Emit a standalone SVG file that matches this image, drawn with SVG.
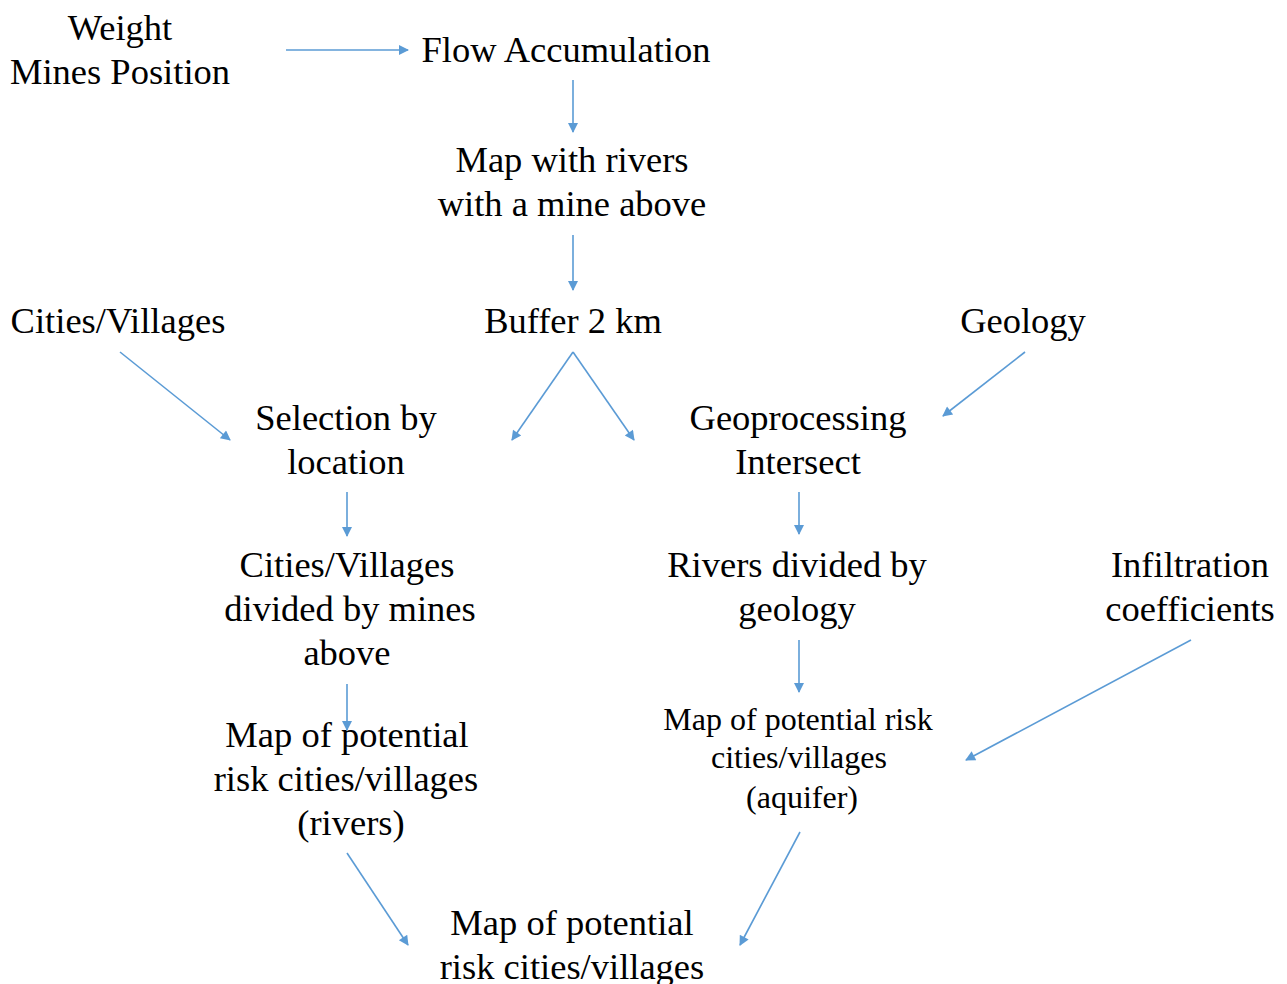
<svg xmlns="http://www.w3.org/2000/svg" width="1287" height="984" viewBox="0 0 1287 984">
<defs>
<marker id="ah" viewBox="0 0 10 10" refX="9" refY="5" markerWidth="12" markerHeight="10" orient="auto" markerUnits="userSpaceOnUse">
<path d="M0,0 L10,5 L0,10 z" fill="#5B9BD5"/>
</marker>
<style>
text{font-family:"Liberation Serif","Times New Roman",serif;font-size:36.5px;fill:#000;text-anchor:middle}
.sm{font-size:32px}
.c line{stroke:#5B9BD5;stroke-width:1.6;marker-end:url(#ah)}
</style>
</defs>
<rect width="1287" height="984" fill="#fff"/>
<g id="n-weight"><text x="120" y="40">Weight</text><text x="120" y="84">Mines Position</text></g>
<g id="n-flow"><text x="566" y="62">Flow Accumulation</text></g>
<g id="n-maprivers"><text x="572" y="172">Map with rivers</text><text x="572" y="216">with a mine above</text></g>
<g id="n-cities"><text x="118" y="333">Cities/Villages</text></g>
<g id="n-buffer"><text x="573" y="333">Buffer 2 km</text></g>
<g id="n-geology"><text x="1023" y="333">Geology</text></g>
<g id="n-selection"><text x="346" y="430">Selection by</text><text x="346" y="474">location</text></g>
<g id="n-geoproc"><text x="798" y="430">Geoprocessing</text><text x="798" y="474">Intersect</text></g>
<g id="n-citiesdiv"><text x="347" y="577">Cities/Villages</text><text x="350" y="621">divided by mines</text><text x="347" y="665">above</text></g>
<g id="n-riversdiv"><text x="797" y="577">Rivers divided by</text><text x="797" y="621">geology</text></g>
<g id="n-infil"><text x="1190" y="577">Infiltration</text><text x="1190" y="621">coefficients</text></g>
<g id="n-riskrivers"><text x="347" y="747">Map of potential</text><text x="346" y="791">risk cities/villages</text><text x="351" y="835">(rivers)</text></g>
<g id="n-riskaquifer"><text class="sm" x="798" y="730">Map of potential risk</text><text class="sm" x="799" y="768">cities/villages</text><text class="sm" x="802" y="808">(aquifer)</text></g>
<g id="n-final"><text x="572" y="935">Map of potential</text><text x="572" y="979">risk cities/villages</text></g>
<g id="connectors" class="c">
<line x1="286" y1="50" x2="408" y2="50"/>
<line x1="573" y1="80" x2="573" y2="132"/>
<line x1="573" y1="235" x2="573" y2="290"/>
<line x1="120" y1="352" x2="230" y2="440"/>
<line x1="573" y1="352" x2="512" y2="440"/>
<line x1="573" y1="352" x2="634" y2="440"/>
<line x1="1025" y1="352" x2="943" y2="416"/>
<line x1="347" y1="492" x2="347" y2="536"/>
<line x1="799" y1="492" x2="799" y2="534"/>
<line x1="347" y1="684" x2="347" y2="730"/>
<line x1="799" y1="640" x2="799" y2="692"/>
<line x1="1191" y1="640" x2="966" y2="760"/>
<line x1="347" y1="853" x2="408" y2="945"/>
<line x1="800" y1="832" x2="740" y2="945"/>
</g>
</svg>
